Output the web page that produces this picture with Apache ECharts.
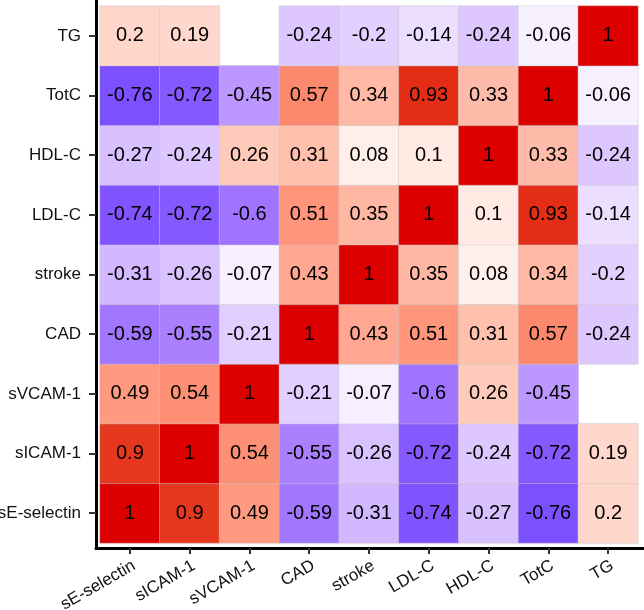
<!DOCTYPE html>
<html>
<head>
<meta charset="utf-8">
<script src="https://cdn.jsdelivr.net/npm/echarts@6/dist/echarts.min.js"></script>
<style>
html,body{margin:0;padding:0;background:#fff;}
#chart{width:644px;height:610px;}
</style>
</head>
<body>
<div id="chart"></div>
<script>
// Variables (x axis left->right, y axis bottom->top)
const variables = ['sE-selectin', 'sICAM-1', 'sVCAM-1', 'CAD', 'stroke', 'LDL-C', 'HDL-C', 'TotC', 'TG'];

// Correlation rows, one per y-axis variable (columns follow `variables`); null = empty cell
const row_sEselectin = [1, 0.9, 0.49, -0.59, -0.31, -0.74, -0.27, -0.76, 0.2];
const row_sICAM1    = [0.9, 1, 0.54, -0.55, -0.26, -0.72, -0.24, -0.72, 0.19];
const row_sVCAM1    = [0.49, 0.54, 1, -0.21, -0.07, -0.6, 0.26, -0.45, null];
const row_CAD       = [-0.59, -0.55, -0.21, 1, 0.43, 0.51, 0.31, 0.57, -0.24];
const row_stroke    = [-0.31, -0.26, -0.07, 0.43, 1, 0.35, 0.08, 0.34, -0.2];
const row_LDLC      = [-0.74, -0.72, -0.6, 0.51, 0.35, 1, 0.1, 0.93, -0.14];
const row_HDLC      = [-0.27, -0.24, 0.26, 0.31, 0.08, 0.1, 1, 0.33, -0.24];
const row_TotC      = [-0.76, -0.72, -0.45, 0.57, 0.34, 0.93, 0.33, 1, -0.06];
const row_TG        = [0.2, 0.19, null, -0.24, -0.2, -0.14, -0.24, -0.06, 1];

const rows = [row_sEselectin, row_sICAM1, row_sVCAM1, row_CAD, row_stroke, row_LDLC, row_HDLC, row_TotC, row_TG];

// ---- Lab colour interpolation (like ggplot's gradient2) ----
function lin(c){c/=255;return c<=0.04045?c/12.92:Math.pow((c+0.055)/1.055,2.4);}
function gam(c){c=c<=0.0031308?12.92*c:1.055*Math.pow(c,1/2.4)-0.055;return Math.max(0,Math.min(255,Math.round(c*255)));}
const Xn=0.95047,Yn=1,Zn=1.08883;
function f(t){return t>0.008856?Math.cbrt(t):7.787*t+16/116;}
function fi(t){return t>0.206893?t*t*t:(t-16/116)/7.787;}
function hex2lab(h){
  const r=lin(parseInt(h.substr(1,2),16)),g=lin(parseInt(h.substr(3,2),16)),b=lin(parseInt(h.substr(5,2),16));
  const X=(0.4124*r+0.3576*g+0.1805*b)/Xn,Y=(0.2126*r+0.7152*g+0.0722*b)/Yn,Z=(0.0193*r+0.1192*g+0.9505*b)/Zn;
  const fx=f(X),fy=f(Y),fz=f(Z);
  return [116*fy-16,500*(fx-fy),200*(fy-fz)];
}
function lab2rgb(L,a,bb){
  const fy=(L+16)/116,fx=fy+a/500,fz=fy-bb/200;
  const X=fi(fx)*Xn,Y=fi(fy)*Yn,Z=fi(fz)*Zn;
  const r=3.2406*X-1.5372*Y-0.4986*Z,g=-0.9689*X+1.8758*Y+0.0415*Z,b=0.0557*X-0.2040*Y+1.0570*Z;
  return 'rgb('+gam(r)+','+gam(g)+','+gam(b)+')';
}
const lowLab=hex2lab('#0000FF'),midLab=hex2lab('#FFFFFF'),highLab=hex2lab('#DD0000');
function colorAt(v){
  const a=v<0?lowLab:highLab,t=Math.abs(v);
  return lab2rgb(midLab[0]+(a[0]-midLab[0])*t,midLab[1]+(a[1]-midLab[1])*t,midLab[2]+(a[2]-midLab[2])*t);
}
const stops=[];
for(let i=0;i<=100;i++){stops.push(colorAt(-1+i*0.02));}

const data=[];
rows.forEach((r,yi)=>r.forEach((v,xi)=>{if(v!==null)data.push([xi,yi,v]);}));

const FONT='"Liberation Sans", Arial, Helvetica, sans-serif';
const chart=echarts.init(document.getElementById('chart'),null,{renderer:'canvas'});
chart.setOption({
  backgroundColor:'#ffffff',
  animation:false,
  grid:[
    {left:100,right:6,top:6,bottom:67,containLabel:false,outerBoundsMode:'none'},
    {left:96,right:0,top:0,bottom:62,containLabel:false,outerBoundsMode:'none'}
  ],
  xAxis:[
    {type:'category',gridIndex:0,data:variables,offset:5,
     axisLine:{show:false},
     axisTick:{show:true,alignWithLabel:true,length:6,lineStyle:{color:'#333333',width:2}},
     axisLabel:{rotate:30,fontSize:17,color:'#111111',fontFamily:FONT,margin:9,interval:0,align:'right',verticalAlign:'top'},
     splitLine:{show:false}},
    {type:'value',gridIndex:1,min:0,max:1,
     axisLine:{show:true,onZero:false,lineStyle:{color:'#000000',width:3}},
     axisTick:{show:false},axisLabel:{show:false},splitLine:{show:false}}
  ],
  yAxis:[
    {type:'category',gridIndex:0,data:variables,offset:4,
     axisLine:{show:false},
     axisTick:{show:true,alignWithLabel:true,length:7,lineStyle:{color:'#333333',width:2}},
     axisLabel:{fontSize:17,color:'#111111',fontFamily:FONT,margin:15,interval:0},
     splitLine:{show:false}},
    {type:'value',gridIndex:1,min:0,max:1,
     axisLine:{show:true,onZero:false,lineStyle:{color:'#000000',width:3}},
     axisTick:{show:false},axisLabel:{show:false},splitLine:{show:false}}
  ],
  visualMap:{show:false,type:'continuous',min:-1,max:1,dimension:2,seriesIndex:0,inRange:{color:stops}},
  series:[{
    type:'heatmap',xAxisIndex:0,yAxisIndex:0,data:data,
    itemStyle:{borderColor:'rgba(200,200,200,0.45)',borderWidth:1},
    label:{show:true,fontSize:20,color:'#000000',fontFamily:FONT,formatter:p=>String(p.value[2])},
    emphasis:{disabled:true}
  }]
});
</script>
</body>
</html>
